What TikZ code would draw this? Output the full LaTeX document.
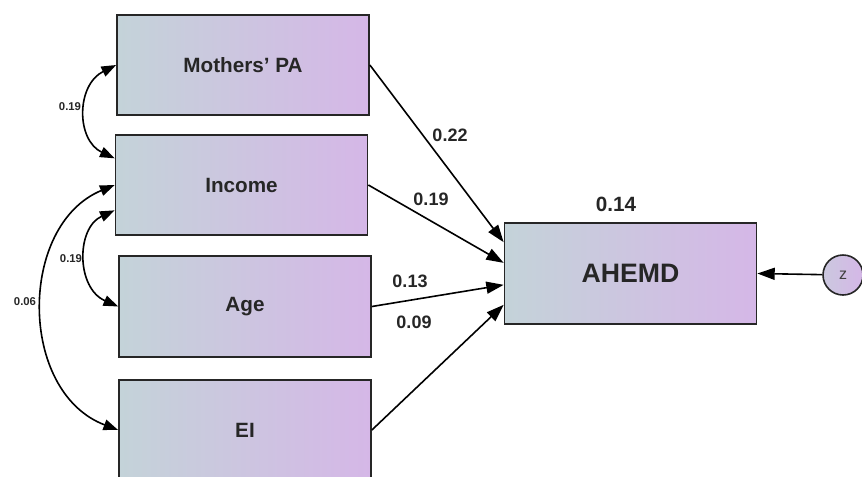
\documentclass[tikz,border=0pt]{standalone}
\usepackage{fontspec}
\setmainfont{Liberation Sans}
\usetikzlibrary{arrows.meta}
\definecolor{boxleft}{RGB}{196,211,217}
\definecolor{boxright}{RGB}{213,183,231}
\begin{document}
\begin{tikzpicture}[x=0.75pt, y=-0.75pt,
    var/.style={draw=black!85, line width=1.3pt, left color=boxleft, right color=boxright,
      minimum width=189pt, minimum height=75.5pt, inner sep=0pt,
      font=\fontsize{15.5}{18}\selectfont\bfseries, text=black!85},
    effect/.style={line width=1.2pt, -{Triangle[length=13pt,width=9pt]}},
    cov/.style={line width=1.2pt, {Triangle[length=11pt,width=8pt]}-{Triangle[length=11pt,width=8pt]}},
    coef/.style={font=\fontsize{13.5}{16}\selectfont\bfseries, text=black!85},
    smallcoef/.style={font=\fontsize{8.5}{10}\selectfont\bfseries, text=black!85}]
    \useasboundingbox (0, 0) rectangle (862, 476) ;
    \node[var] (mpa) at (243, 65) {Mothers’ PA} ;
    \node[var] (inc) at (241.5, 185) {Income} ;
    \node[var] (age) at (245, 306.5) {Age} ;
    \node[var] (ei) at (245, 430) {EI} ;
    \node[var, font=\fontsize{20}{24}\selectfont\bfseries] (ahemd) at (630.5, 273.5) {AHEMD} ;
    \node[draw=black!85, circle, line width=1.2pt, minimum size=30pt, inner sep=0pt,
      left color=boxleft!60!boxright, right color=boxright,
      font=\fontsize{12}{14}\selectfont, text=black!75] (z) at (843, 275) {z} ;
    \draw[effect] (mpa.east) -- ([yshift=23.5pt]ahemd.west) ;
    \draw[effect] (inc.east) -- ([yshift=8pt]ahemd.west) ;
    \draw[effect] (age.east) -- ([yshift=-8.5pt]ahemd.west) ;
    \draw[effect] (ei.east) -- ([yshift=-23.5pt]ahemd.west) ;
    \draw[effect] (z) -- (ahemd.east) ;
    \draw[cov] (mpa.west) .. controls (76, 85) and (76, 140) .. ([yshift=20pt]inc.west) ;
    \draw[cov] ([yshift=-19pt]inc.west) .. controls (76, 228) and (76, 288) .. (age.west) ;
    \draw[cov] (inc.west) .. controls (18, 225) and (18, 392) .. (ei.west) ;
    \node[coef] (lmpa) at (450, 135) {0.22} ;
    \node[coef] (linc) at (431, 199) {0.19} ;
    \node[coef] (lage) at (410, 281) {0.13} ;
    \node[coef] (lei) at (414, 322) {0.09} ;
    \node[coef, font=\fontsize{15.5}{18}\selectfont\bfseries] (lr2) at (616, 204) {0.14} ;
    \node[smallcoef] (lmi) at (70, 107) {0.19} ;
    \node[smallcoef] (lia) at (71, 259) {0.19} ;
    \node[smallcoef] (lie) at (25, 302) {0.06} ;
\end{tikzpicture}
\end{document}
